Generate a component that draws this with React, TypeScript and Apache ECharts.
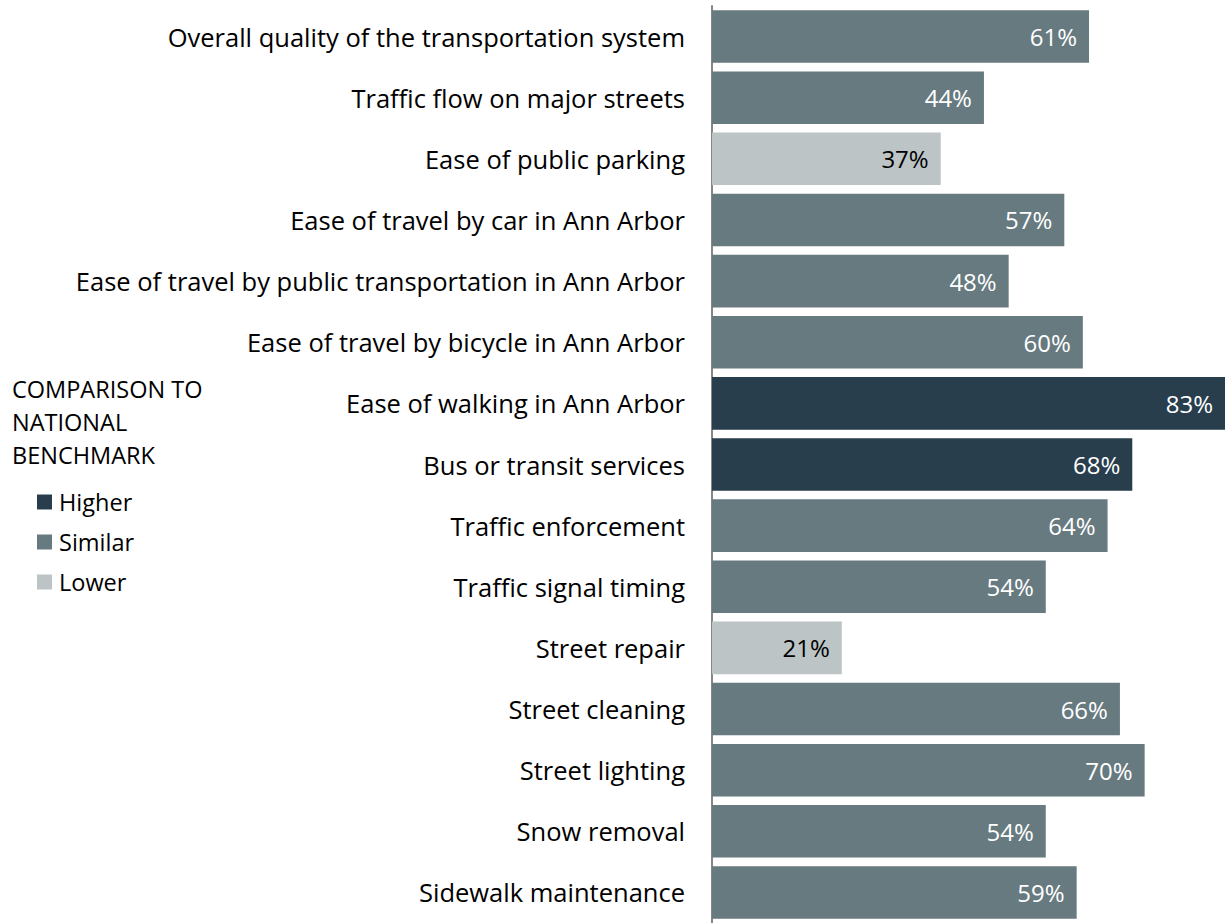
import React, { useEffect, useRef } from "react";
import * as echarts from "echarts";

const categories = [
  "Overall quality of the transportation system",
  "Traffic flow on major streets",
  "Ease of public parking",
  "Ease of travel by car in Ann Arbor",
  "Ease of travel by public transportation in Ann Arbor",
  "Ease of travel by bicycle in Ann Arbor",
  "Ease of walking in Ann Arbor",
  "Bus or transit services",
  "Traffic enforcement",
  "Traffic signal timing",
  "Street repair",
  "Street cleaning",
  "Street lighting",
  "Snow removal",
  "Sidewalk maintenance",
];
const values = [61, 44, 37, 57, 48, 60, 83, 68, 64, 54, 21, 66, 70, 54, 59];
const comparison = [
  "Similar", "Similar", "Lower", "Similar", "Similar", "Similar", "Higher", "Higher",
  "Similar", "Similar", "Lower", "Similar", "Similar", "Similar", "Similar",
];
const groups = ["Higher", "Similar", "Lower"];
const groupColors: Record<string, string> = { Higher: "#283E4D", Similar: "#677A80", Lower: "#BCC4C6" };
const labelColors: Record<string, string> = { Higher: "#ffffff", Similar: "#ffffff", Lower: "#000000" };

const FONT = "'Open Sans', sans-serif";

export default function App() {
  const ref = useRef<HTMLDivElement>(null);
  useEffect(() => {
    const chart = echarts.init(ref.current!, undefined, { renderer: "svg" });
    const series = groups.map((g) => ({
      name: g,
      type: "bar",
      stack: "all",
      barCategoryGap: "14%",
      itemStyle: { color: groupColors[g] },
      label: {
        show: true,
        position: "insideRight",
        distance: 12,
        color: labelColors[g],
        fontSize: 24,
        fontFamily: FONT,
        formatter: (p: any) => (p.value == null || p.value === "-" ? "" : p.value + "%"),
      },
      data: values.map((v, i) => (comparison[i] === g ? v : "-")),
    }));
    chart.setOption({
      animation: false,
      title: {
        text: "COMPARISON TO\nNATIONAL\nBENCHMARK",
        left: 12,
        top: 372,
        padding: 0,
        textStyle: { fontSize: 23.5, fontWeight: "normal", color: "#000", fontFamily: FONT, lineHeight: 33 },
      },
      legend: {
        orient: "vertical",
        left: 37,
        top: 490,
        padding: 0,
        itemWidth: 15,
        itemHeight: 15,
        itemGap: 16,
        icon: "rect",
        data: groups,
        textStyle: { fontSize: 23.5, color: "#000", fontFamily: FONT, padding: [0, 0, 0, 2] },
      },
      grid: { left: 712, top: 6, width: 515, height: 922 },
      xAxis: {
        type: "value",
        min: 0,
        max: 83,
        show: false,
      },
      yAxis: {
        type: "category",
        inverse: true,
        data: categories,
        axisLine: { show: true, lineStyle: { color: "#868686", width: 2 } },
        axisTick: { show: false },
        axisLabel: { fontSize: 25.5, color: "#000", margin: 27, fontFamily: FONT },
      },
      series,
    });
    return () => chart.dispose();
  }, []);
  return <div ref={ref} style={{ position: "absolute", left: 0, top: 0, width: 1225, height: 923 }} />;
}
